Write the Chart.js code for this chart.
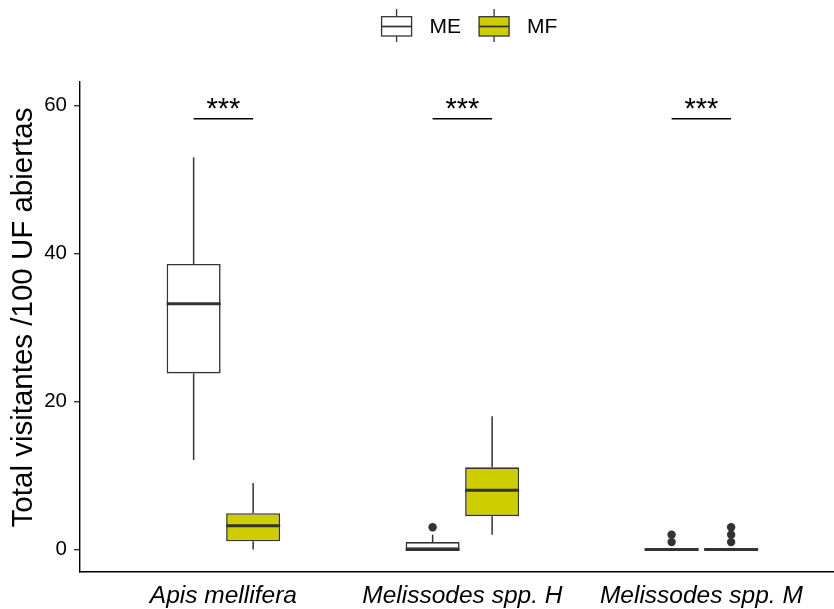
<!DOCTYPE html>
<html>
<head>
<meta charset="utf-8">
<script src="https://cdn.jsdelivr.net/npm/chart.js@4.4.1/dist/chart.umd.min.js"></script>
<style>
  html, body { margin: 0; padding: 0; background: #ffffff; overflow: hidden; }
  #wrap { width: 834px; height: 609px; position: relative; }
</style>
</head>
<body>
<div id="wrap"><canvas id="chart"></canvas></div>
<script>
// Categories (x axis) and groups (legend)
const categories = ['Apis mellifera', 'Melissodes spp. H', 'Melissodes spp. M'];
const groups = ['ME', 'MF'];

// Five-number summaries per category: [lower whisker, Q1, median, Q3, upper whisker]
const summaryME = [
  [12.1, 23.8, 33.2, 38.6, 53],
  [0, 0, 0, 1, 2],
  [0, 0, 0, 0, 0]
];
const summaryMF = [
  [0, 1.1, 3.2, 4.9, 9],
  [2, 4.5, 8, 11.1, 18],
  [0, 0, 0, 0, 0]
];

// Points beyond the whiskers
const outliersME = [[], [3], [1, 2]];
const outliersMF = [[], [], [1, 2, 3]];

// Significance brackets between ME and MF in each category
const sigLabels = ['***', '***', '***'];
const sigLevel = 58.2;

// Y axis ticks and title
const yTicks = [0, 20, 40, 60];
const yTitle = 'Total visitantes /100 UF abiertas';

const fillColors = ['#FFFFFF', '#CDCD00'];
const lineColor = '#333333';
const FONT = "'Liberation Sans', Arial, Helvetica, sans-serif";

const summaries = [summaryME, summaryMF];
const outlierSets = [outliersME, outliersMF];

// Whiskers, medians and outlier points drawn on top of the floating bars (boxes)
const boxPlotPlugin = {
  id: 'boxWhiskers',
  afterDatasetsDraw(chart) {
    const ctx = chart.ctx;
    const y = chart.scales.y;
    ctx.save();
    chart.data.datasets.forEach((ds, k) => {
      const meta = chart.getDatasetMeta(k);
      meta.data.forEach((bar, i) => {
        const s = ds.stats[i];
        const cx = bar.x;
        const half = bar.width / 2;
        ctx.strokeStyle = lineColor;
        ctx.lineCap = 'butt';
        ctx.lineWidth = 1.5;
        // upper whisker
        if (s[4] > s[3]) {
          ctx.beginPath();
          ctx.moveTo(cx, y.getPixelForValue(s[3]));
          ctx.lineTo(cx, y.getPixelForValue(s[4]));
          ctx.stroke();
        }
        // lower whisker
        if (s[1] > s[0]) {
          ctx.beginPath();
          ctx.moveTo(cx, y.getPixelForValue(s[0]));
          ctx.lineTo(cx, y.getPixelForValue(s[1]));
          ctx.stroke();
        }
        // median
        const ym = y.getPixelForValue(s[2]);
        ctx.lineWidth = 3;
        ctx.beginPath();
        ctx.moveTo(cx - half, ym);
        ctx.lineTo(cx + half, ym);
        ctx.stroke();
        // outliers
        ctx.fillStyle = lineColor;
        (ds.outliers[i] || []).forEach(v => {
          ctx.beginPath();
          ctx.arc(cx, y.getPixelForValue(v), 4.2, 0, Math.PI * 2);
          ctx.fill();
        });
      });
    });
    ctx.restore();
  }
};

// Significance brackets with their labels
const sigPlugin = {
  id: 'sigBrackets',
  afterDatasetsDraw(chart) {
    const ctx = chart.ctx;
    const y = chart.scales.y;
    const m0 = chart.getDatasetMeta(0);
    const m1 = chart.getDatasetMeta(1);
    const yp = y.getPixelForValue(sigLevel);
    ctx.save();
    sigLabels.forEach((lab, i) => {
      const x1 = m0.data[i].x;
      const x2 = m1.data[i].x;
      ctx.strokeStyle = '#000000';
      ctx.lineWidth = 1.5;
      ctx.beginPath();
      ctx.moveTo(x1, yp);
      ctx.lineTo(x2, yp);
      ctx.stroke();
      ctx.fillStyle = '#000000';
      ctx.font = '29px ' + FONT;
      ctx.textAlign = 'center';
      ctx.textBaseline = 'alphabetic';
      ctx.fillText(lab, (x1 + x2) / 2, yp - 0.5);
    });
    ctx.restore();
  }
};

// Rotated y-axis title placed in the space reserved left of the tick labels
const yTitlePlugin = {
  id: 'yTitle',
  afterDraw(chart) {
    const ctx = chart.ctx;
    const area = chart.chartArea;
    ctx.save();
    ctx.translate(23.5, (area.top + area.bottom) / 2 - 9.5);
    ctx.rotate(-Math.PI / 2);
    ctx.fillStyle = '#000000';
    ctx.font = '29.5px ' + FONT;
    ctx.textAlign = 'center';
    ctx.textBaseline = 'middle';
    ctx.fillText(yTitle, 0, 0);
    ctx.restore();
  }
};

// Legend with small box-plot keys above the panel
const boxLegendPlugin = {
  id: 'boxLegend',
  afterDraw(chart) {
    const ctx = chart.ctx;
    const area = chart.chartArea;
    ctx.save();
    ctx.font = '21px ' + FONT;
    const keyW = 30, gap = 18;
    const items = chart.data.datasets.map(ds => ({
      label: ds.label, fill: ds.backgroundColor, w: ctx.measureText(ds.label).width
    }));
    let total = 0;
    items.forEach((it, k) => { total += keyW + gap + it.w + (k < items.length - 1 ? gap : 0); });
    let x = area.left + 389.5 - total / 2;
    const yMid = 26.5;
    items.forEach(it => {
      // whisker
      ctx.strokeStyle = lineColor;
      ctx.lineWidth = 1.3;
      ctx.beginPath();
      ctx.moveTo(x + keyW / 2, yMid - 17.5);
      ctx.lineTo(x + keyW / 2, yMid + 15.5);
      ctx.stroke();
      // box
      ctx.fillStyle = it.fill;
      ctx.fillRect(x, yMid - 9.8, keyW, 19.3);
      ctx.strokeRect(x, yMid - 9.8, keyW, 19.3);
      // median
      ctx.lineWidth = 1.7;
      ctx.beginPath();
      ctx.moveTo(x, yMid);
      ctx.lineTo(x + keyW, yMid);
      ctx.stroke();
      // label
      ctx.fillStyle = '#000000';
      ctx.textAlign = 'left';
      ctx.textBaseline = 'middle';
      ctx.fillText(it.label, x + keyW + gap, yMid + 1);
      x += keyW + gap + it.w + gap;
    });
    ctx.restore();
  }
};

const datasets = groups.map((g, k) => ({
  label: g,
  data: categories.map((c, i) => ({ x: i + 1, y: [summaries[k][i][1], summaries[k][i][3]] })),
  stats: summaries[k],
  outliers: outlierSets[k],
  backgroundColor: fillColors[k],
  borderColor: lineColor,
  borderWidth: 1.6,
  borderSkipped: false,
  categoryPercentage: 0.498,
  barPercentage: 0.9076
}));

new Chart(document.getElementById('chart'), {
  type: 'bar',
  data: { datasets },
  options: {
    responsive: true,
    maintainAspectRatio: false,
    animation: false,
    events: [],
    layout: { padding: { top: 82, right: 0, bottom: 0, left: 0 } },
    plugins: {
      legend: { display: false },
      tooltip: { enabled: false }
    },
    scales: {
      x: {
        type: 'linear',
        offset: false,
        min: 0.4,
        max: 3.555,
        afterBuildTicks: scale => { scale.ticks = categories.map((c, i) => ({ value: i + 1 })); },
        afterFit: scale => { scale.height = 37; },
        grid: { display: false, drawTicks: false },
        border: { display: true, color: '#000000', width: 1.4 },
        ticks: {
          autoSkip: false,
          maxRotation: 0,
          padding: 9,
          color: '#000000',
          font: { family: FONT, size: 24.5, style: 'italic' },
          callback: (v, i) => categories[i]
        }
      },
      y: {
        type: 'linear',
        min: -3.04,
        max: 63.18,
        afterBuildTicks: scale => { scale.ticks = yTicks.map(v => ({ value: v })); },
        afterFit: scale => { scale.width = 80; },
        grid: { display: true, drawOnChartArea: false, drawTicks: true, tickLength: 6, color: lineColor, lineWidth: 1.4 },
        border: { display: true, color: '#000000', width: 1.4 },
        ticks: {
          padding: 7,
          color: '#000000',
          font: { family: FONT, size: 20.5 }
        }
      }
    }
  },
  plugins: [boxPlotPlugin, sigPlugin, yTitlePlugin, boxLegendPlugin]
});
</script>
</body>
</html>
